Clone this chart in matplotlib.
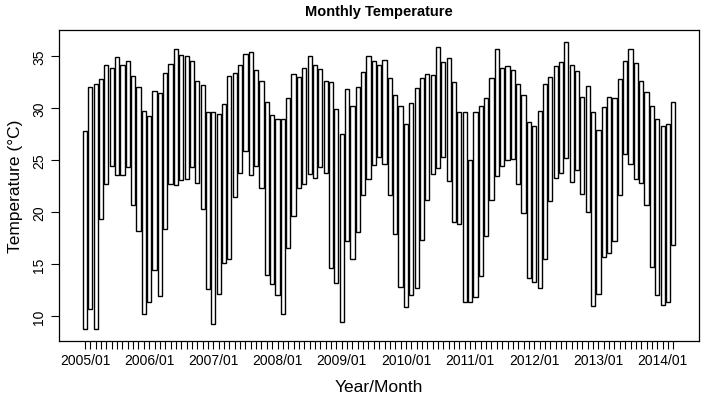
import matplotlib
matplotlib.use("Agg")
import matplotlib.pyplot as plt
import numpy as np

plt.rcParams['font.family'] = ['Liberation Sans', 'DejaVu Sans']

# Monthly max / min temperatures, 2005/01 .. 2014/03
highs = [
    27.8, 32.0, 32.3, 32.8, 34.1, 33.9, 34.9, 34.1, 34.5, 33.1, 32.0, 29.7,  # 2005
    29.2, 31.6, 31.4, 33.4, 34.2, 35.7, 35.1, 35.0, 34.5, 32.6, 32.2, 29.6,  # 2006
    29.6, 29.4, 30.4, 33.1, 33.4, 34.1, 35.2, 35.4, 33.7, 32.6, 30.6, 29.3,  # 2007
    28.9, 28.9, 31.0, 33.3, 33.0, 33.9, 35.0, 34.1, 33.8, 32.6, 32.5, 29.9,  # 2008
    27.5, 31.8, 30.2, 32.0, 33.5, 35.0, 34.5, 34.1, 34.6, 32.9, 31.3, 30.2,  # 2009
    28.5, 30.5, 31.9, 32.9, 33.3, 33.2, 35.9, 34.4, 34.8, 32.5, 29.6, 29.6,  # 2010
    25.0, 29.6, 30.2, 31.0, 32.9, 35.7, 33.9, 34.0, 33.7, 32.3, 31.3, 28.7,  # 2011
    28.3, 29.7, 32.3, 33.0, 34.0, 34.4, 36.4, 34.1, 33.6, 31.1, 32.1, 29.6,  # 2012
    27.9, 30.1, 31.1, 31.0, 32.8, 34.5, 35.7, 34.3, 32.6, 31.5, 30.2, 28.9,  # 2013
    28.3, 28.5, 30.6,                                                        # 2014
]
lows = [
    8.7, 10.7, 8.7, 19.3, 22.7, 24.4, 23.6, 23.6, 24.3, 20.7, 18.2, 10.2,    # 2005
    11.3, 14.4, 11.9, 18.4, 22.7, 22.6, 23.1, 23.2, 24.3, 22.8, 20.3, 12.6,  # 2006
    9.2, 12.1, 15.1, 15.5, 21.4, 23.8, 25.9, 23.6, 24.4, 22.3, 13.9, 13.1,   # 2007
    12.0, 10.2, 16.5, 19.6, 22.3, 22.7, 23.7, 23.3, 24.3, 23.8, 14.6, 13.2,  # 2008
    9.4, 17.2, 15.5, 18.1, 21.6, 23.2, 24.5, 25.3, 24.6, 21.6, 17.9, 12.8,   # 2009
    10.9, 12.0, 12.7, 17.3, 21.2, 23.7, 24.2, 25.3, 23.0, 19.0, 18.8, 11.3,  # 2010
    11.3, 11.8, 13.8, 17.7, 21.2, 23.5, 24.4, 25.0, 25.1, 22.7, 19.9, 13.7,  # 2011
    13.3, 12.7, 15.5, 21.1, 23.3, 23.8, 25.2, 22.9, 24.0, 21.7, 20.0, 11.0,  # 2012
    12.1, 15.7, 16.1, 17.2, 21.6, 25.6, 24.6, 23.2, 22.8, 20.7, 14.7, 12.0,  # 2013
    11.1, 11.3, 16.8,                                                        # 2014
]
tick_labels = ["2005/01", "2006/01", "2007/01", "2008/01", "2009/01",
               "2010/01", "2011/01", "2012/01", "2013/01", "2014/01"]
y_ticks = [10, 15, 20, 25, 30, 35]

W, H = 701, 402
fig = plt.figure(figsize=(W / 100, H / 100), dpi=100)
L, R, T, B = 59, 699, 31, 342
ax = fig.add_axes([L / W, 1 - B / H, (R - L) / W, (B - T) / H])

n = len(highs)
x = np.arange(1, n + 1)
hi = np.array(highs)
lo = np.array(lows)
ax.bar(x, hi - lo, bottom=lo, width=0.78, facecolor='white',
       edgecolor='black', linewidth=1.0)

ax.set_xlim(-3.86, 115.8)
span = hi.max() - lo.min()
ax.set_ylim(lo.min() - 0.04 * span, hi.max() + 0.04 * span)

labels = [''] * n
for i, lab in enumerate(tick_labels):
    idx = i * 12
    if idx < n:
        labels[idx] = lab
ax.set_xticks(x)
ax.set_xticklabels(labels, fontsize=10)
ax.set_yticks(y_ticks)
ax.set_yticklabels([str(v) for v in y_ticks], fontsize=10, rotation=90, va='center')
ax.tick_params(axis='both', direction='out', length=6, width=0.8, color='black', pad=3)

for s in ax.spines.values():
    s.set_linewidth(0.9)
    s.set_color('black')

fig.text((L + R) / 2 / W, 1 - 12 / H, "Monthly Temperature", ha='center', va='center',
         fontsize=10.5, fontweight='bold')
fig.text((L + R) / 2 / W, 1 - 388 / H, "Year/Month", ha='center', va='center', fontsize=12.5)
fig.text(16 / W, 1 - ((T + B) / 2) / H, "Temperature (°C)", ha='center', va='center',
         rotation=90, fontsize=12.5)

fig.savefig("out.png", dpi=100)
